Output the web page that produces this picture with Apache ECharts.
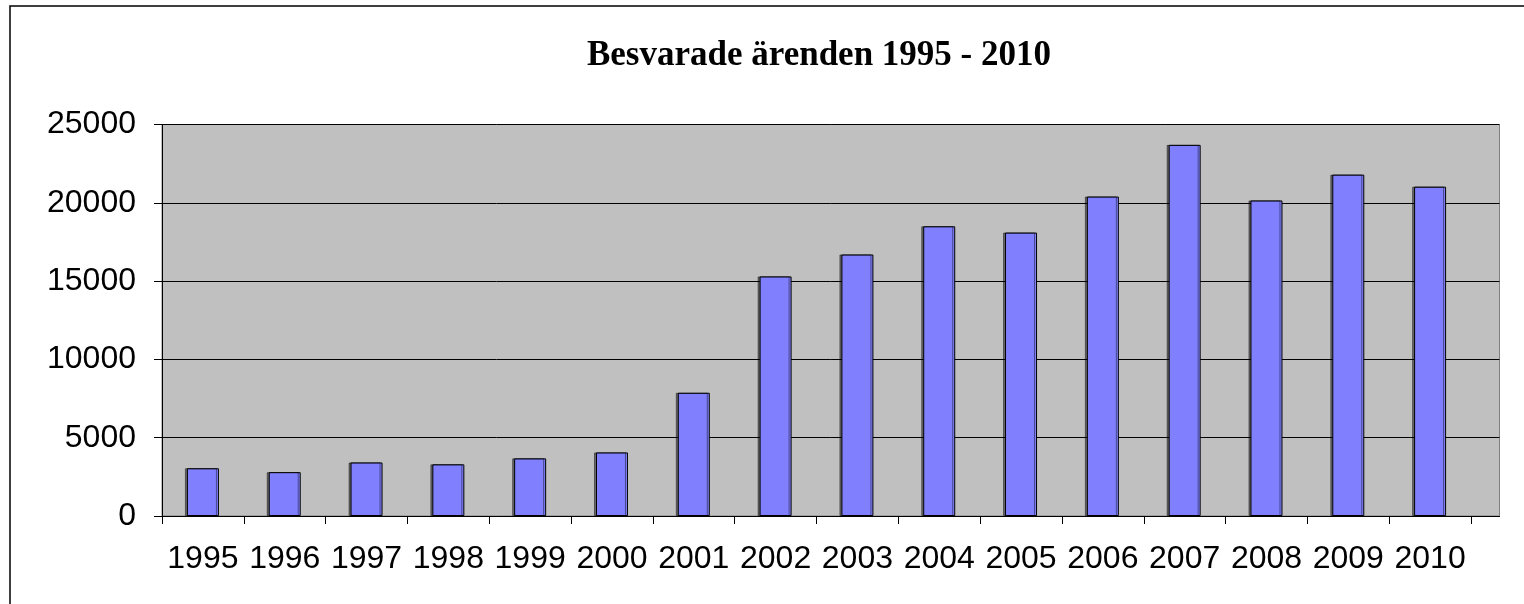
<!DOCTYPE html>
<html>
<head>
<meta charset="utf-8">
<script src="https://cdn.jsdelivr.net/npm/echarts@6/dist/echarts.min.js"></script>
<style>
	html, body { margin: 0; padding: 0; background: #fff; }
	#chart { width: 1524px; height: 604px; }
</style>
</head>
<body>
<div id="chart"></div>
<script>
	// data
	var titleText = 'Besvarade ärenden 1995 - 2010';
	var years = ['1995', '1996', '1997', '1998', '1999', '2000', '2001', '2002',
		'2003', '2004', '2005', '2006', '2007', '2008', '2009', '2010'];
	var answered = [3050, 2800, 3420, 3300, 3680, 4060, 7870, 15300,
		16700, 18500, 18100, 20400, 23700, 20150, 21800, 21030];
	var yTicks = [0, 5000, 10000, 15000, 20000, 25000];

	var myChart = echarts.init(document.getElementById('chart'));
	var labelFont = '"Liberation Sans", Arial, sans-serif';
	var yMin = yTicks[0], yMax = yTicks[yTicks.length - 1], yStep = yTicks[1] - yTicks[0];

	var option = {
		animation: false,
		backgroundColor: '#ffffff',
		graphic: [
			//外框
			{ type: 'rect', shape: { x: 10, y: 6, width: 1600, height: 700 }, style: { fill: 'none', stroke: '#000', lineWidth: 1.5 }, silent: true },
			{ type: 'text', x: 819, y: 56, style: { text: titleText, font: 'bold 35px "Liberation Serif", "Times New Roman", serif', fill: '#000', textAlign: 'center', textVerticalAlign: 'middle' } }
		],
		grid: [
			{	//绘图区背景
				left: 162, right: 24.5, top: 124.5, bottom: 88,
				show: true,
				backgroundColor: '#c0c0c0',
				borderColor: '#808080',
				borderWidth: 1
			},
			{	//柱子所在区域（分类轴比绘图区略短）
				left: 162, right: 53, top: 124.5, bottom: 88
			}
		],
		xAxis: [
			{
				gridIndex: 0,
				type: 'category',
				data: years,
				axisLine: { lineStyle: { color: '#000', width: 1 } },
				axisTick: { show: false },
				axisLabel: { show: false }
			},
			{
				gridIndex: 1,
				type: 'category',
				data: years,
				boundaryGap: true,
				axisLine: { show: false },
				axisTick: { show: true, length: 8, lineStyle: { color: '#000' } },
				axisLabel: {
					margin: 27,
					fontSize: 32,
					fontFamily: labelFont,
					color: '#000',
					interval: 0
				}
			}
		],
		yAxis: [
			{
				gridIndex: 0,
				type: 'value',
				min: yMin, max: yMax, interval: yStep,
				axisLine: { show: true, lineStyle: { color: '#000', width: 1 } },
				axisTick: { show: true, length: 8, lineStyle: { color: '#000' } },
				splitLine: { show: true, lineStyle: { color: '#000', width: 1 } },
				axisLabel: {
					margin: 26,
					fontSize: 32,
					fontFamily: labelFont,
					color: '#000',
					formatter: function (v) { return String(v); }
				}
			},
			{
				gridIndex: 1,
				type: 'value',
				min: yMin, max: yMax, interval: yStep,
				show: false
			}
		],
		series: [{
			type: 'bar',
			xAxisIndex: 1,
			yAxisIndex: 1,
			data: answered,
			barWidth: 32,
			itemStyle: {
				color: '#8080ff',
				borderColor: '#000',
				borderWidth: 1,
				shadowColor: 'rgba(0,0,0,0.45)',
				shadowOffsetX: -2,
				shadowOffsetY: 0,
				shadowBlur: 0
			}
		}]
	};
	myChart.setOption(option);
</script>
</body>
</html>
